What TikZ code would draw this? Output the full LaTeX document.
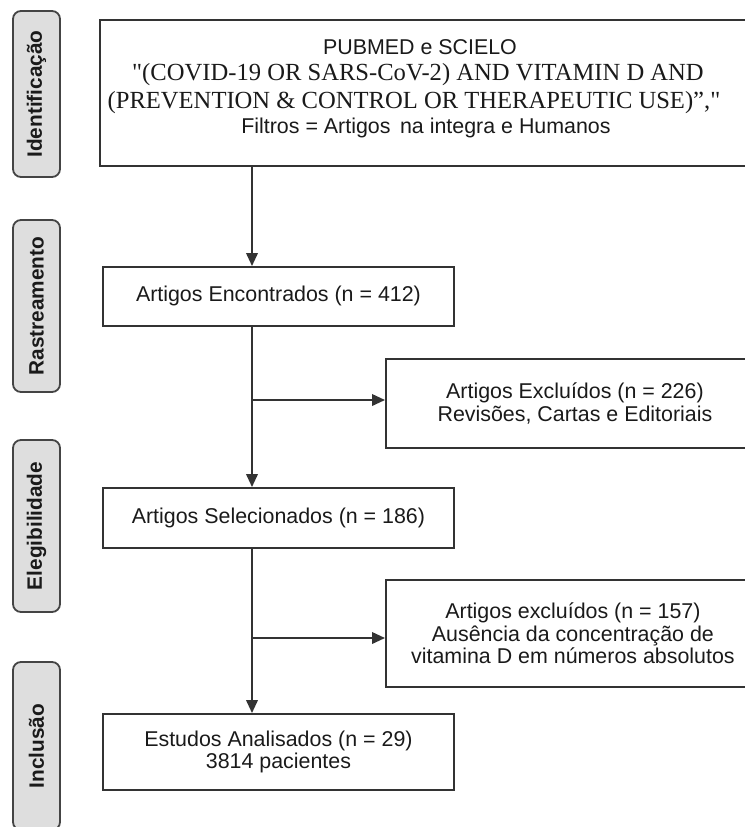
\documentclass[tikz,border=0pt]{standalone}
\usepackage{fontspec}
\setmainfont{Liberation Sans}
\newfontfamily\timesf{Liberation Serif}
\usetikzlibrary{arrows.meta}
\definecolor{edge}{HTML}{333333}
\definecolor{lblfill}{HTML}{DEDEDE}
\definecolor{lbledge}{HTML}{444444}
\definecolor{ink}{HTML}{1A1A1A}
\begin{document}
\begin{tikzpicture}[x=0.5pt,y=-0.5pt,
  box/.style={draw=edge, line width=0.95pt, inner sep=0pt, anchor=north west, text=ink,
    font=\fontsize{10.7}{11.3}\selectfont, align=center},
  txt/.style={inner sep=0pt, text=ink, font=\fontsize{10.7}{11.3}\selectfont},
  ttxt/.style={inner sep=0pt, text=ink, font=\timesf\fontsize{12.3}{14}\selectfont},
  phase/.style={draw=lbledge, fill=lblfill, line width=0.9pt, rounded corners=4pt,
    rotate=90, inner sep=0pt, minimum height=23.5pt, text=ink,
    font=\bfseries\fontsize{10.4}{12}\selectfont},
  arr/.style={draw=edge, line width=0.95pt, -{Triangle[length=6.5pt,width=5.8pt]}},
  ln/.style={draw=edge, line width=0.95pt}]
\useasboundingbox (0,0) rectangle (745,827);
\clip (0,0) rectangle (745,827);

% phase labels
\node[phase, minimum width=83pt] (ph1) at (36.5,94) {Identificação};
\node[phase, minimum width=86pt] (ph2) at (36.5,306) {Rastreamento};
\node[phase, minimum width=86pt] (ph3) at (36.5,526) {Elegibilidade};
\node[phase, minimum width=84pt] (ph4) at (36.5,746) {Inclusão};

% boxes
\node[box, minimum width=326pt, minimum height=73pt] (top) at (99,19) {};
\node[txt] (t1) at (420,47) {PUBMED e SCIELO};
\node[ttxt] (t2) at (418,75) {"(COVID-19 OR SARS-CoV-2) AND VITAMIN D AND};
\node[ttxt] (t3) at (414,103) {(PREVENTION \& CONTROL OR THERAPEUTIC USE)”,"};
\node[txt] (t4) at (426,128) {Filtros = Artigos\, na integra e Humanos};

\node[box, minimum width=175.5pt, minimum height=29.5pt] (enc) at (102,266)
  {Artigos Encontrados (n = 412)};
\node[box, minimum width=189pt, minimum height=44.5pt] (exc1) at (385,358)
  {Artigos Excluídos (n = 226)\\Revisões, Cartas e Editoriais};
\node[box, minimum width=175.5pt, minimum height=30pt] (sel) at (102,487)
  {Artigos Selecionados (n = 186)};
\node[box, minimum width=187pt, minimum height=53.5pt] (exc2) at (385,579)
  {Artigos excluídos (n = 157)\\Ausência da concentração de\\vitamina D em números absolutos};
\node[box, minimum width=175.5pt, minimum height=38pt] (est) at (102,713)
  {Estudos Analisados (n = 29)\\3814 pacientes};

% connectors
\coordinate (spine) at (252,0);
\coordinate (b1) at (252,400);
\coordinate (b2) at (252,638);
\draw[arr] (top.south -| spine) -- (enc.north -| spine);
\draw[arr] (enc.south -| spine) -- (sel.north -| spine);
\draw[arr] (b1) -- (b1 -| exc1.west);
\draw[arr] (sel.south -| spine) -- (est.north -| spine);
\draw[arr] (b2) -- (b2 -| exc2.west);
\end{tikzpicture}
\end{document}
